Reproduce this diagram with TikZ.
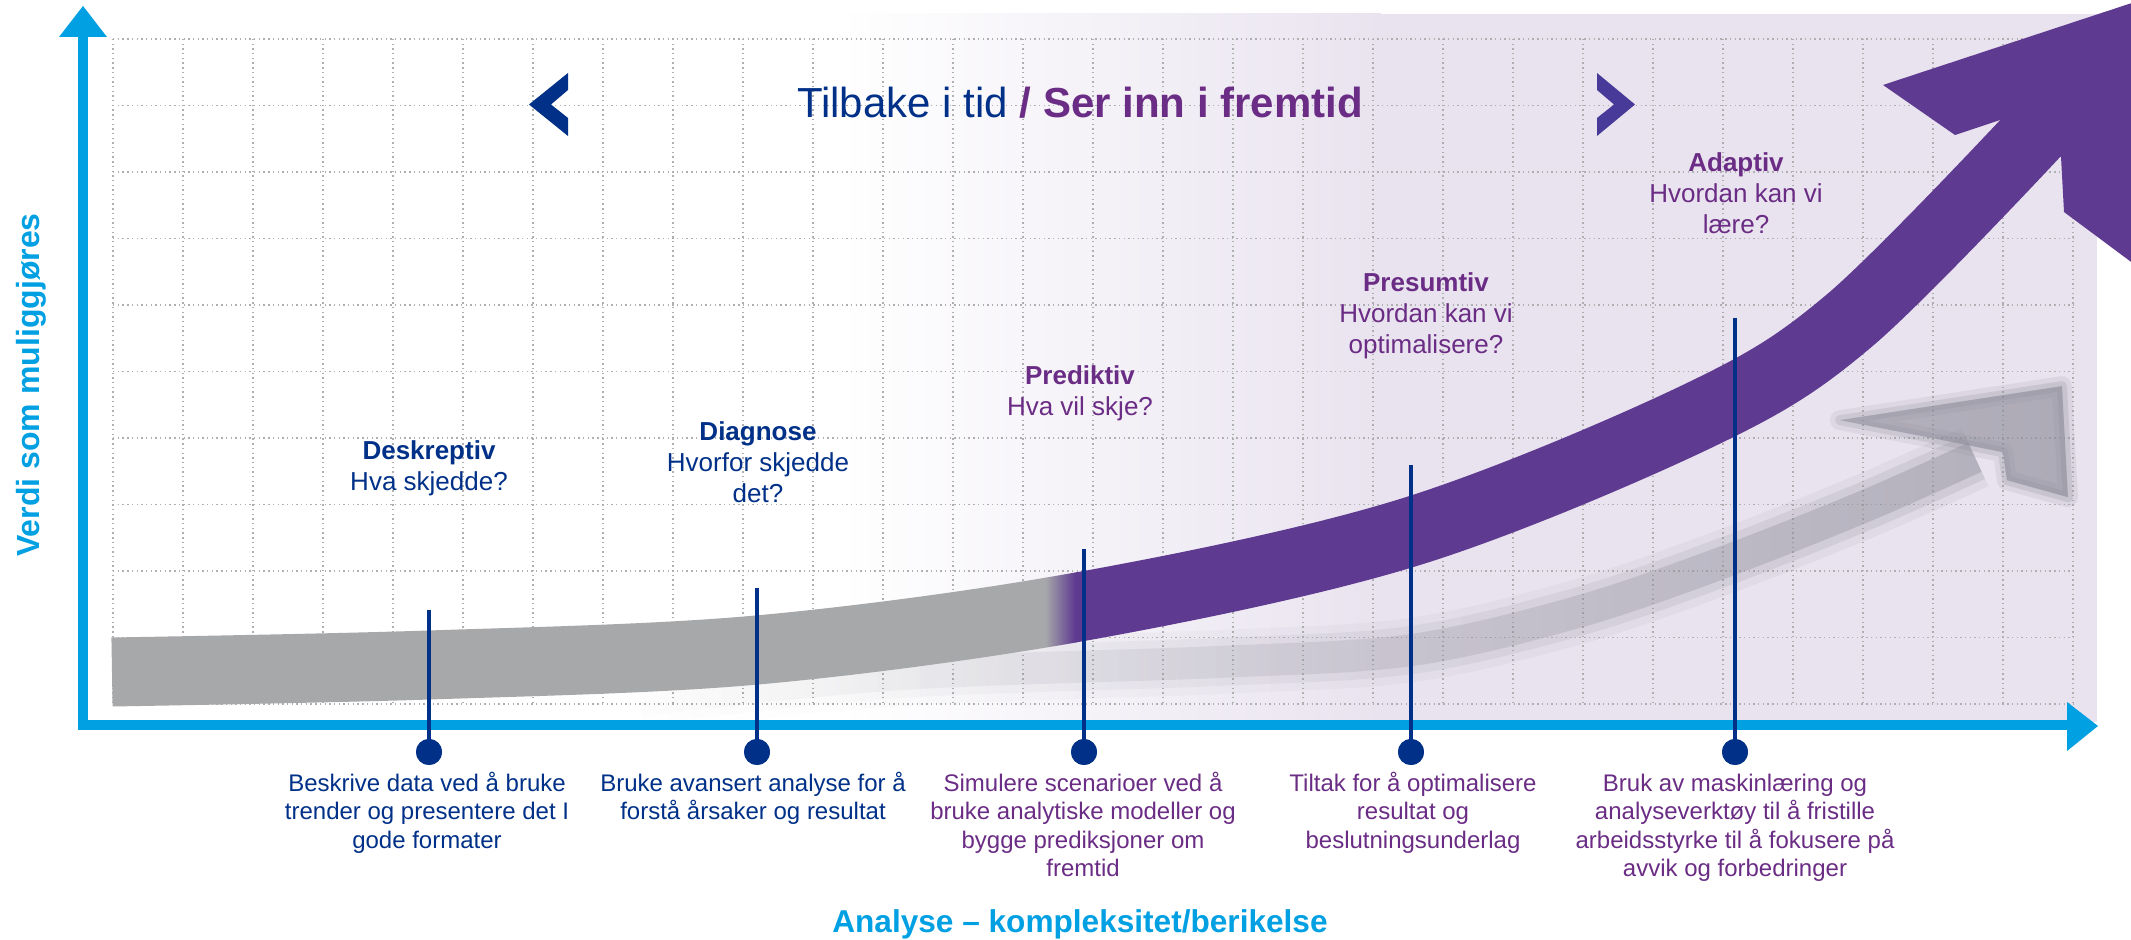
\documentclass[tikz,border=0pt]{standalone}
\usepackage{fontspec}
\setmainfont{Liberation Sans}
\usetikzlibrary{fadings}
\definecolor{navy}{RGB}{0,48,135}
\definecolor{plum}{RGB}{106,44,132}
\definecolor{arrowpurple}{RGB}{94,58,145}
\definecolor{axiscyan}{RGB}{0,160,227}
\definecolor{bandgray}{RGB}{167,168,170}
\definecolor{lavender}{RGB}{233,227,239}
\definecolor{chevviolet}{RGB}{72,58,152}
\definecolor{shadowgray}{RGB}{140,140,152}
\definecolor{gridgray}{RGB}{175,175,178}
\tikzfading[name=shadowfade, left color=transparent!100, middle color=transparent!0, right color=transparent!0]
\newcommand\bandpath{plot[smooth,tension=0.55] coordinates {(112,672) (429,665) (757,650) (1084,606) (1410,532) (1700,415) (1850,320) (2040,128)}}
\newcommand\shadowpath{plot[smooth,tension=0.55] coordinates {(640,700) (900,674) (1216,662) (1411,650) (1577,612) (1721,563) (1865,506) (1975,457)}}
\newcommand\shadowhead{(1840,420) -- (2062,386) -- (2068,497) -- (2007,480) -- (2003,452) -- (1943,440) -- cycle}
\begin{document}
\begin{tikzpicture}[x=0.5pt,y=-0.5pt,
  gridline/.style={gridgray, line width=0.7pt, dash pattern=on 0.7pt off 1.65pt},
  axisline/.style={axiscyan, line width=5pt, line join=miter},
  axishead/.style={fill=axiscyan, draw=none},
  stem/.style={navy, line width=2.1pt},
  pin/.style={circle, fill=navy, draw=none, minimum size=13pt, inner sep=0pt},
  toplabel/.style={align=center, font=\fontsize{13}{15.5}\selectfont, anchor=base, inner sep=0pt},
  desc/.style={align=center, font=\fontsize{12}{14.25}\selectfont, anchor=base, inner sep=0pt},
]
\useasboundingbox (0,0) rectangle (2131,940);

% background
\fill[lavender] (1380,14) rectangle (2097,722);
\shade[left color=white, right color=lavender] (840,14) rectangle (1381,722);

% grid
\foreach \i in {0,...,28} \draw[gridline] ({113+70*\i},39) -- ({113+70*\i},704);
\foreach \j in {0,...,10} \draw[gridline] (113,{39+66.5*\j}) -- (2073,{39+66.5*\j});

% shadow arrow (blurred)
\begin{scope}
  \path[scope fading=shadowfade, fit fading=true] (600,300) rectangle (2131,780);
  \begin{scope}[shadowgray]
    \draw[line width=32pt, opacity=0.12] \shadowpath;
    \draw[line width=24pt, opacity=0.22] \shadowpath;
    \draw[line width=16pt, opacity=0.42] \shadowpath;
    \filldraw[line width=10pt, opacity=0.16, line join=round] \shadowhead;
    \filldraw[line width=5pt, opacity=0.25, line join=round] \shadowhead;
    \fill[opacity=0.45] \shadowhead;
  \end{scope}
\end{scope}

% main band
\begin{scope}
  \clip (0,0) rectangle (1045,940);
  \draw[bandgray, line width=34.5pt] \bandpath;
\end{scope}
\foreach \k in {0,...,15} {
  \pgfmathtruncatemacro\pc{\k*100/15}
  \begin{scope}
    \clip ({1044.5+2*\k},0) rectangle ({1046.8+2*\k},940);
    \draw[arrowpurple!\pc!bandgray, line width=34.5pt] \bandpath;
  \end{scope}
}
\begin{scope}
  \clip (1076,-10) rectangle (2131,940);
  \draw[arrowpurple, line width=34.5pt] \bandpath;
  \fill[arrowpurple] (1883,85) -- (2150,-3) -- (2150,276) -- (2064,212) -- (2061,157) -- (2000,120) -- (1955,135) -- cycle;
\end{scope}

% chevrons
\fill[navy] (568,73) -- (529,104.5) -- (568,136) -- (568,118) -- (551,104.5) -- (568,90) -- cycle;
\fill[chevviolet] (1597,73) -- (1635,104.5) -- (1597,136) -- (1597,118) -- (1614,104.5) -- (1597,90) -- cycle;

% axes
\coordinate (corner) at (83,725);
\coordinate (ybase) at (83,36);
\coordinate (xbase) at (2069,725);
\draw[axisline] (ybase) -- (corner) -- (xbase);
\fill[axishead] (83,6) -- (107,37) -- (59,37) -- cycle;
\fill[axishead] (2098,726) -- (2067,751) -- (2067,702) -- cycle;

% stems and pins
\coordinate (t1) at (429,610);
\coordinate (t2) at (757,588);
\coordinate (t3) at (1084,549);
\coordinate (t4) at (1411,465);
\coordinate (t5) at (1735,318);
\node[pin] (p1) at (429,752) {};
\node[pin] (p2) at (757,752) {};
\node[pin] (p3) at (1084,752) {};
\node[pin] (p4) at (1411,752) {};
\node[pin] (p5) at (1735,752) {};
\foreach \n in {1,...,5} \draw[stem] (p\n.center) -- (t\n);
\foreach \n in {1,...,5} \fill[navy] (p\n) circle (6.5pt);

% title
\node[anchor=base, inner sep=0pt, font=\fontsize{21}{25}\selectfont] (title) at (1080,118)
  {\textcolor{navy}{Tilbake i tid} \textcolor{plum}{\textbf{/ Ser inn i fremtid}}};

% axis labels
\node[rotate=90, inner sep=0pt, font=\fontsize{16}{19}\selectfont\bfseries, text=axiscyan] (ylab) at (31,385) {Verdi som muliggjøres};
\node[anchor=base, inner sep=0pt, font=\fontsize{15.8}{19}\selectfont\bfseries, text=axiscyan] (xlab) at (1080,932) {Analyse – kompleksitet/berikelse};

% upper labels (anchor base = last line)
\node[toplabel, text=navy] (l1) at (429,491) {\textbf{Deskreptiv}\\Hva skjedde?};
\node[toplabel, text=navy] (l2) at (758,503) {\textbf{Diagnose}\\Hvorfor skjedde\\det?};
\node[toplabel, text=plum] (l3) at (1080,416) {\textbf{Prediktiv}\\Hva vil skje?};
\node[toplabel, text=plum] (l4) at (1426,354) {\textbf{Presumtiv}\\Hvordan kan vi\\optimalisere?};
\node[toplabel, text=plum] (l5) at (1736,234) {\textbf{Adaptiv}\\Hvordan kan vi\\lære?};

% descriptions (anchor base = last line)
\node[desc, text=navy] (d1) at (427,848) {Beskrive data ved å bruke\\trender og presentere det I\\gode formater};
\node[desc, text=navy] (d2) at (753,819.5) {Bruke avansert analyse for å\\forstå årsaker og resultat};
\node[desc, text=plum] (d3) at (1083,876.5) {Simulere scenarioer ved å\\bruke analytiske modeller og\\bygge prediksjoner om\\fremtid};
\node[desc, text=plum] (d4) at (1413,848) {Tiltak for å optimalisere\\resultat og\\beslutningsunderlag};
\node[desc, text=plum] (d5) at (1735,876.5) {Bruk av maskinlæring og\\analyseverktøy til å fristille\\arbeidsstyrke til å fokusere på\\avvik og forbedringer};
\end{tikzpicture}
\end{document}
